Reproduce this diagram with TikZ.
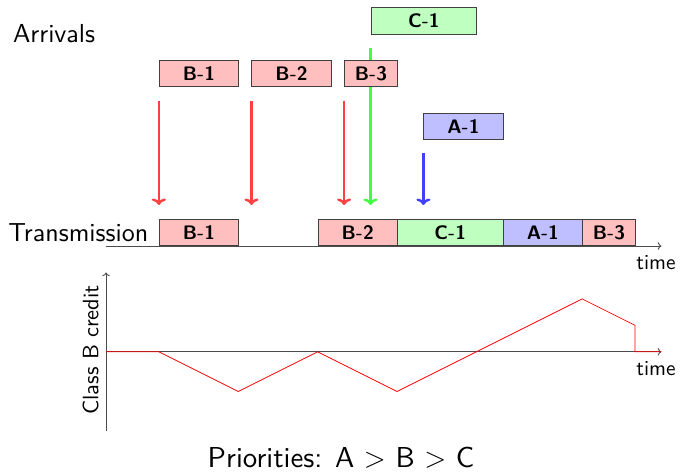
\RequirePackage{fix-cm}
\documentclass[tikz,border=0pt]{standalone}
\usepackage{fontspec}
\setsansfont{lmsans10-regular.otf}[BoldFont=lmsans10-bold.otf]
\usetikzlibrary{arrows.meta,backgrounds}

\tikzset{
  pkt/.style={draw=black!75, line width=0.9pt, minimum height=1cm, inner sep=0pt,
              anchor=south west, font=\sffamily\bfseries\fontsize{21}{25}\selectfont},
  pktB/.style={pkt, fill=red!25},
  pktC/.style={pkt, fill=green!25},
  pktA/.style={pkt, fill=blue!25},
  arrival/.style={line width=2.6pt, -{To[length=7pt,width=15pt]}},
  axisline/.style={draw=black!70, line width=1pt, -{To[length=4pt,width=8pt]}},
  credit/.style={draw=red, line width=0.8pt, line join=miter},
  bigtext/.style={inner sep=0pt, anchor=base west, font=\sffamily\fontsize{28}{32}\selectfont},
  timetext/.style={inner sep=0pt, anchor=base west, font=\sffamily\fontsize{23}{27}\selectfont},
}

\begin{document}
\begin{tikzpicture}
\useasboundingbox (-4.008,-8.507) rectangle (21.70,9.30);

% row labels
\node[bigtext] (arrivals) at (-3.52,7.71) {Arrivals};
\node[bigtext] (transmission) at (-3.70,0.16) {Transmission};

% arriving packets
\node[pktB, minimum width=3cm] (aB1) at (2,6) {B-1};
\node[pktB, minimum width=3cm] (aB2) at (5.5,6) {B-2};
\node[pktB, minimum width=2cm] (aB3) at (9,6) {B-3};
\node[pktC, minimum width=4cm] (aC1) at (10,8) {C-1};
\node[pktA, minimum width=3cm] (aA1) at (12,4) {A-1};

% transmitted packets
\node[pktB, minimum width=3cm] (tB1) at (2,0) {B-1};
\node[pktB, minimum width=3cm] (tB2) at (8,0) {B-2};
\node[pktC, minimum width=4cm] (tC1) at (11,0) {C-1};
\node[pktA, minimum width=3cm] (tA1) at (15,0) {A-1};
\node[pktB, minimum width=2cm] (tB3) at (18,0) {B-3};

\coordinate (lane) at (0,1.55);
\coordinate (t0) at (0,0);
\coordinate (tend) at (21,0);
\coordinate (c0) at (0,-4);
\coordinate (cend) at (21,-4);
\coordinate (cbot) at (0,-7);
\coordinate (ctop) at (0,-1);

\begin{scope}[on background layer]
  % arrival arrows
  \draw[arrival, red!75] ([yshift=-0.5cm]aB1.south west) -- (aB1.south west |- lane);
  \draw[arrival, red!75] ([yshift=-0.5cm]aB2.south west) -- (aB2.south west |- lane);
  \draw[arrival, red!75] ([yshift=-0.5cm]aB3.south west) -- (aB3.south west |- lane);
  \draw[arrival, green!75] ([yshift=-0.5cm]aC1.south west) -- (aC1.south west |- lane);
  \draw[arrival, blue!75] ([yshift=-0.5cm]aA1.south west) -- (aA1.south west |- lane);
  % transmission time axis
  \draw[axisline] (t0) -- (tend);
\end{scope}
\node[timetext] (time1) at (20.04,-0.87) {time};

% class B credit plot
\draw[axisline] (cbot) -- (ctop);
\draw[axisline] (c0) -- (cend);
\draw[credit] (c0) -- (2,-4) -- (5,-5.5) -- (8,-4) -- (11,-5.5) -- (18,-2)
  -- (20,-3) -- (20,-4) -- (cend);
\node[timetext] (time2) at (20.04,-4.88) {time};
\node[inner sep=0pt, anchor=base west, rotate=90,
      font=\sffamily\fontsize{24}{28}\selectfont] (credlabel) at (-0.29,-6.39) {Class B credit};

\node[inner sep=0pt, anchor=base, font=\sffamily\fontsize{31}{35}\selectfont]
  (prio) at (8.885,-8.36) {Priorities: A $>$ B $>$ C};
\end{tikzpicture}
\end{document}
